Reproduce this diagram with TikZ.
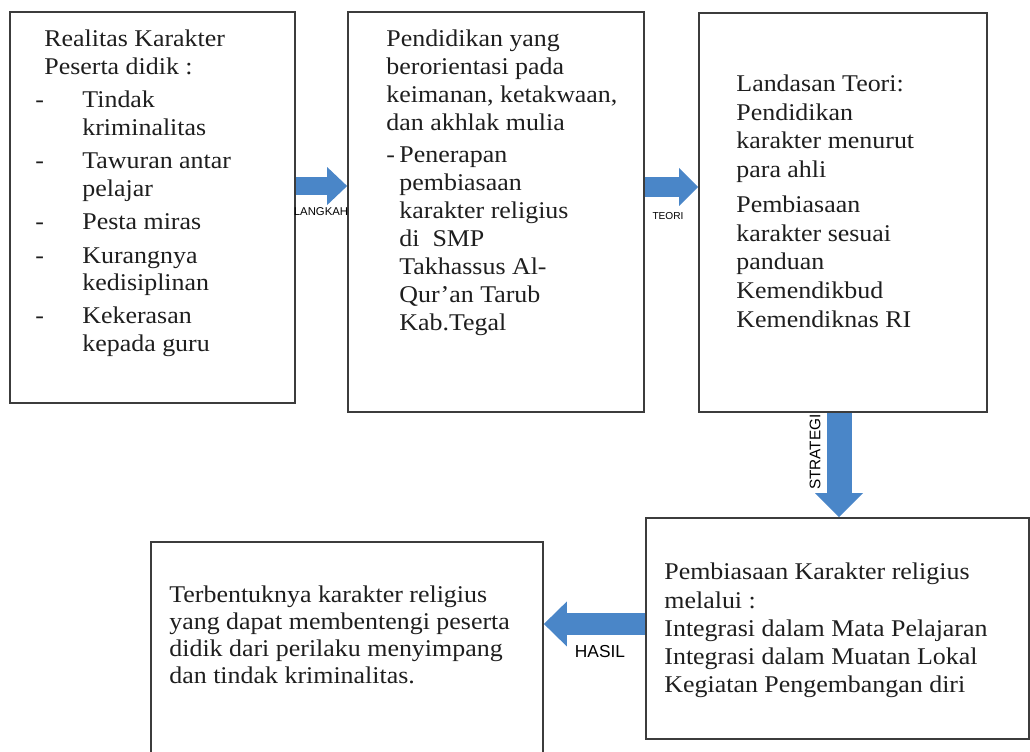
\documentclass[tikz,border=0pt]{standalone}
\usepackage{fontspec}
\setmainfont{Liberation Serif}
\setsansfont{Liberation Sans}
\newfontfamily\hurufkotak{Liberation Serif}[FakeStretch=1.08]
\usepackage{tikz}
\usetikzlibrary{arrows.meta, positioning}
\definecolor{birupanah}{RGB}{74,134,200}
\definecolor{garis}{RGB}{60,60,60}
\definecolor{tinta}{RGB}{30,30,30}
\newcommand{\butir}{\makebox[35.25pt][l]{-}}
\newcommand{\butirdua}{\makebox[9.75pt][l]{-}}

\begin{document}
\begin{tikzpicture}[x=0.75pt, y=-0.75pt,
	kotak/.style={draw=garis, line width=1.3pt},
	isi/.style={anchor=north west, inner sep=0pt, align=left, text=tinta},
	label panah/.style={inner sep=0pt, font=\sffamily\fontsize{#1}{#1}\selectfont},
	panah/.style n args={3}{draw=birupanah, line width=#1, -{Triangle[length=#2, width=#3, line width=0pt]}}]
\useasboundingbox (0,0) rectangle (1030,752);

% kotak-kotak
\node[kotak, minimum width=213.75pt, minimum height=293.25pt] (realitas) at (152.5,207.5) {};
\node[kotak, minimum width=222pt, minimum height=300pt] (pendidikan) at (496,212) {};
\node[kotak, minimum width=216pt, minimum height=299.25pt] (teori) at (843,212.5) {};
\node[kotak, minimum width=287.25pt, minimum height=165.75pt] (strategi) at (837.5,628.5) {};
\node[kotak, minimum width=294pt, minimum height=171pt] (hasil) at (347,656) {};

% isi kotak
\node[isi, font=\hurufkotak\fontsize{18}{20.6}\selectfont] (isiRealitas) at ([shift={(26,18.7)}]realitas.north west)
	{\hspace*{6.75pt}Realitas Karakter\\
	 \hspace*{6.75pt}Peserta didik :\\[4.5pt]
	 \butir Tindak\\
	 \hspace*{35.25pt}kriminalitas\\[4.5pt]
	 \butir Tawuran antar\\
	 \hspace*{35.25pt}pelajar\\[4.5pt]
	 \butir Pesta miras\\[4.5pt]
	 \butir Kurangnya\\
	 \hspace*{35.25pt}kedisiplinan\\[4.5pt]
	 \butir Kekerasan\\
	 \hspace*{35.25pt}kepada guru};
\node[isi, font=\hurufkotak\fontsize{18}{21}\selectfont] (isiPendidikan) at ([shift={(39,18.7)}]pendidikan.north west)
	{Pendidikan yang\\
	 berorientasi pada\\
	 keimanan, ketakwaan,\\
	 dan akhlak mulia\\[3pt]
	 \butirdua Penerapan\\
	 \hspace*{9.75pt}pembiasaan\\
	 \hspace*{9.75pt}karakter religius\\
	 \hspace*{9.75pt}di\ \ SMP\\
	 \hspace*{9.75pt}Takhassus Al-\\
	 \hspace*{9.75pt}Qur’an Tarub\\
	 \hspace*{9.75pt}Kab.Tegal};
\node[isi, font=\hurufkotak\fontsize{18}{21.4}\selectfont] (isiTeori) at ([shift={(38,62.7)}]teori.north west)
	{Landasan Teori:\\
	 Pendidikan\\
	 karakter menurut\\
	 para ahli\\[5.25pt]
	 Pembiasaan\\
	 karakter sesuai\\
	 panduan\\
	 Kemendikbud\\
	 Kemendiknas RI};
\node[isi, font=\hurufkotak\fontsize{18}{21.2}\selectfont] (isiStrategi) at ([shift={(19,45.7)}]strategi.north west)
	{Pembiasaan Karakter religius\\
	 melalui :\\
	 Integrasi dalam Mata Pelajaran\\
	 Integrasi dalam Muatan Lokal\\
	 Kegiatan Pengembangan diri};
\node[isi, font=\hurufkotak\fontsize{18}{20.25}\selectfont] (isiHasil) at ([shift={(19,44.7)}]hasil.north west)
	{Terbentuknya karakter religius\\
	 yang dapat membentengi peserta\\
	 didik dari perilaku menyimpang\\
	 dan tindak kriminalitas.};

% panah
\draw[panah={13.5pt}{15pt}{28.5pt}] ([yshift=16.1pt]realitas.east) coordinate (p1) -- (p1 -| pendidikan.west);
\draw[panah={15pt}{14.25pt}{28.5pt}] ([yshift=18.75pt]pendidikan.east) coordinate (p2) -- (p2 -| teori.west);
\draw[panah={18.75pt}{18pt}{36pt}] ([xshift=-3pt]teori.south) coordinate (p3) -- (p3 |- strategi.north);
\draw[panah={16.5pt}{17.25pt}{33.75pt}] ([yshift=3.4pt]strategi.west) coordinate (p4) -- (p4 -| hasil.east);

% label panah
\node[label panah=8.5] (lblLangkah) at (321,212) {LANGKAH};
\node[label panah=7.6] (lblTeori) at (668,216) {TEORI};
\node[label panah=11.5, rotate=90] (lblStrategi) at (815,452) {STRATEGI};
\node[label panah=13] (lblHasil) at (600,652) {HASIL};

\end{tikzpicture}
\end{document}
